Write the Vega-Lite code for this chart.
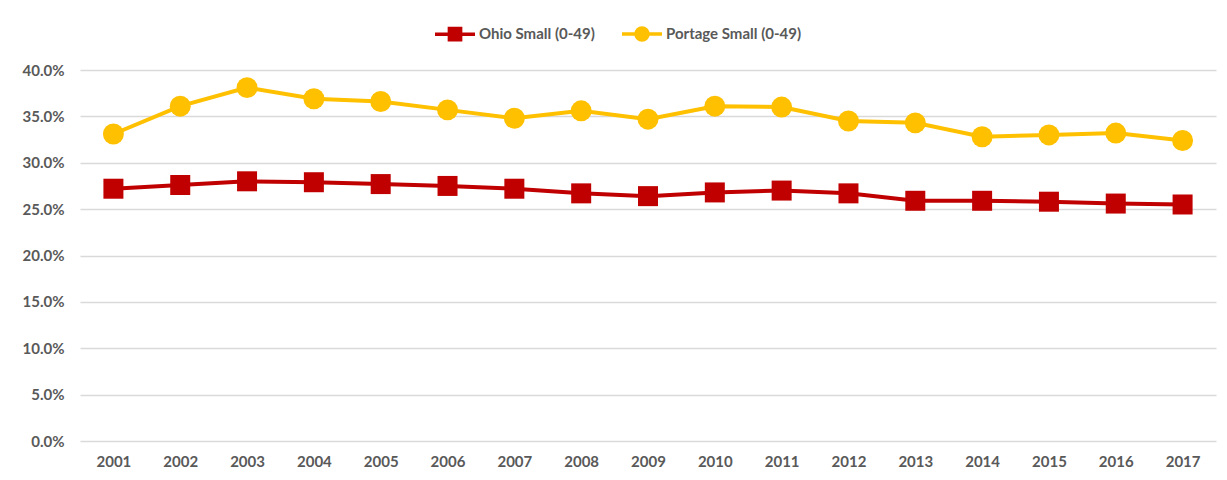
{
  "$schema": "https://vega.github.io/schema/vega-lite/v6.json",
  "autosize": "none",
  "width": 1136,
  "height": 371,
  "padding": {"left": 80, "top": 70, "right": 11, "bottom": 39},
  "background": "white",
  "config": {
    "view": {"stroke": null},
    "font": "Lato",
    "axis": {"labelColor": "#595959", "labelFont": "Lato", "labelFontSize": 15, "labelFontWeight": "bold"}
  },
  "data": {
    "values": [
      {"year": "2001", "series": "Ohio Small (0-49)", "value": 0.272},
      {"year": "2002", "series": "Ohio Small (0-49)", "value": 0.276},
      {"year": "2003", "series": "Ohio Small (0-49)", "value": 0.280},
      {"year": "2004", "series": "Ohio Small (0-49)", "value": 0.279},
      {"year": "2005", "series": "Ohio Small (0-49)", "value": 0.277},
      {"year": "2006", "series": "Ohio Small (0-49)", "value": 0.275},
      {"year": "2007", "series": "Ohio Small (0-49)", "value": 0.272},
      {"year": "2008", "series": "Ohio Small (0-49)", "value": 0.267},
      {"year": "2009", "series": "Ohio Small (0-49)", "value": 0.264},
      {"year": "2010", "series": "Ohio Small (0-49)", "value": 0.268},
      {"year": "2011", "series": "Ohio Small (0-49)", "value": 0.270},
      {"year": "2012", "series": "Ohio Small (0-49)", "value": 0.267},
      {"year": "2013", "series": "Ohio Small (0-49)", "value": 0.259},
      {"year": "2014", "series": "Ohio Small (0-49)", "value": 0.259},
      {"year": "2015", "series": "Ohio Small (0-49)", "value": 0.258},
      {"year": "2016", "series": "Ohio Small (0-49)", "value": 0.256},
      {"year": "2017", "series": "Ohio Small (0-49)", "value": 0.255},
      {"year": "2001", "series": "Portage  Small (0-49)", "value": 0.331},
      {"year": "2002", "series": "Portage  Small (0-49)", "value": 0.361},
      {"year": "2003", "series": "Portage  Small (0-49)", "value": 0.381},
      {"year": "2004", "series": "Portage  Small (0-49)", "value": 0.369},
      {"year": "2005", "series": "Portage  Small (0-49)", "value": 0.366},
      {"year": "2006", "series": "Portage  Small (0-49)", "value": 0.357},
      {"year": "2007", "series": "Portage  Small (0-49)", "value": 0.348},
      {"year": "2008", "series": "Portage  Small (0-49)", "value": 0.356},
      {"year": "2009", "series": "Portage  Small (0-49)", "value": 0.347},
      {"year": "2010", "series": "Portage  Small (0-49)", "value": 0.361},
      {"year": "2011", "series": "Portage  Small (0-49)", "value": 0.360},
      {"year": "2012", "series": "Portage  Small (0-49)", "value": 0.345},
      {"year": "2013", "series": "Portage  Small (0-49)", "value": 0.343},
      {"year": "2014", "series": "Portage  Small (0-49)", "value": 0.328},
      {"year": "2015", "series": "Portage  Small (0-49)", "value": 0.330},
      {"year": "2016", "series": "Portage  Small (0-49)", "value": 0.332},
      {"year": "2017", "series": "Portage  Small (0-49)", "value": 0.324}
    ]
  },
  "encoding": {
    "x": {
      "field": "year", "type": "ordinal",
      "scale": {"type": "point", "padding": 0.5},
      "axis": {"title": null, "labelAngle": 0, "domain": false, "ticks": false, "labelPadding": 13, "grid": false}
    },
    "y": {
      "field": "value", "type": "quantitative",
      "scale": {"domain": [0, 0.4], "nice": false},
      "axis": {"title": null, "format": ".1%", "values": [0, 0.05, 0.1, 0.15, 0.2, 0.25, 0.3, 0.35, 0.4], "domain": false, "ticks": false, "labelPadding": 16, "gridColor": "#D9D9D9", "gridWidth": 1.3}
    },
    "color": {
      "field": "series", "type": "nominal",
      "scale": {"domain": ["Ohio Small (0-49)", "Portage  Small (0-49)"], "range": ["#C00000", "#FFC000"]},
      "legend": {
        "title": null,
        "orient": "none",
        "direction": "horizontal",
        "legendX": 353,
        "legendY": -58,
        "symbolSize": 1600,
        "symbolStrokeWidth": 3.5,
        "labelFont": "Lato",
        "labelFontSize": 15,
        "labelFontWeight": "bold",
        "labelColor": "#595959",
        "labelOffset": 2,
        "columnPadding": 20,
        "encode": {
          "symbols": {
            "update": {
              "shape": {"signal": "datum.value === 'Ohio Small (0-49)' ? 'M-1,0H1M-0.28,-0.28H0.28V0.28H-0.28Z' : 'M-1,0H1M-0.3,0A0.3,0.3 0 1,0 0.3,0A0.3,0.3 0 1,0 -0.3,0Z'"},
              "fill": {"scale": "color", "field": "value"},
              "stroke": {"scale": "color", "field": "value"},
              "strokeWidth": {"value": 3.5},
              "opacity": {"value": 1},
              "fillOpacity": {"value": 1}
            }
          }
        }
      }
    }
  },
  "layer": [
    {"mark": {"type": "line", "strokeWidth": 4}},
    {
      "transform": [{"filter": "datum.series === 'Ohio Small (0-49)'"}],
      "mark": {"type": "point", "filled": true, "opacity": 1, "size": 400, "shape": "square"}
    },
    {
      "transform": [{"filter": "datum.series !== 'Ohio Small (0-49)'"}],
      "mark": {"type": "point", "filled": true, "opacity": 1, "size": 440, "shape": "circle"}
    }
  ]
}
